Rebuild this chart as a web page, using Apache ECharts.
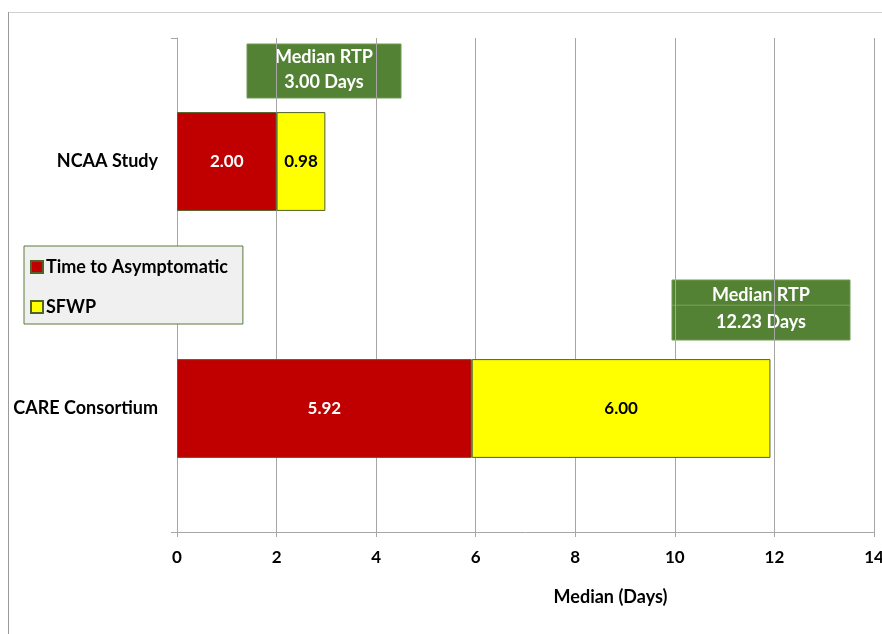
<!DOCTYPE html>
<html><head><meta charset="utf-8">
<script src="https://cdn.jsdelivr.net/npm/echarts@6/dist/echarts.min.js"></script>
<style>html,body{margin:0;padding:0;background:#fff}#c{width:882px;height:634px}</style>
</head><body><div id="c"></div>
<script>
const categories = ['NCAA Study', 'CARE Consortium'];
const timeToAsymptomatic = [2.00, 5.92];
const sfwp = [0.98, 6.00];
const medianRTP = ['3.00', '12.23'];
const xTicks = [0, 2, 4, 6, 8, 10, 12, 14];

const FONT = 'Lato, "Open Sans", sans-serif';
const chart = echarts.init(document.getElementById('c'));
const green = '#548235';
function box(x, y, w, h, val, divider) {
  const children = [
    {type:'rect', shape:{x:0,y:0,width:w,height:h}, style:{fill:green, stroke:'#6f9a4f', lineWidth:1}},
    {type:'text', style:{x:w/2, y:h*0.25, text:'Median RTP', fill:'#fff', font:'bold 18px ' + FONT, align:'center', verticalAlign:'middle'}},
    {type:'text', style:{x:w/2, y:h*0.70, text:val + ' Days', fill:'#fff', font:'bold 18px ' + FONT, align:'center', verticalAlign:'middle'}}
  ];
  if (divider) children.splice(1, 0, {type:'line', shape:{x1:0,y1:h*0.42,x2:w,y2:h*0.42}, style:{stroke:'#7aa35a', lineWidth:1}});
  return {type:'group', x:x, y:y, z:100, children};
}
chart.setOption({
  backgroundColor:'#fff',
  animation:false,
  textStyle:{fontFamily:FONT},
  grid:{left:177, right:8, top:38, bottom:102, containLabel:false, outerBoundsMode:'none'},
  legend:{
    orient:'vertical', left:24, top:246,
    data:['Time to Asymptomatic','SFWP'],
    backgroundColor:'#f0f0f0', borderColor:'#5a7a3a', borderWidth:1,
    padding:[12, 15, 8, 6], itemGap:22, itemWidth:12, itemHeight:12, icon:'rect',
    textStyle:{fontFamily:FONT, fontWeight:'bold', fontSize:18, color:'#000', padding:[0,0,0,-2]},
  },
  xAxis:{
    type:'value', min:0, max:14, interval:2,
    name:'Median (Days)', nameLocation:'middle', nameGap:56,
    nameTextStyle:{fontFamily:FONT, fontWeight:'bold', fontSize:18, color:'#000', padding:[0,0,0,170]},
    axisLine:{show:true, lineStyle:{color:'#a6a6a6'}},
    axisTick:{show:true, length:5, lineStyle:{color:'#a6a6a6'}},
    axisLabel:{fontFamily:FONT, fontWeight:'bold', fontSize:17, color:'#000', margin:17,
      formatter: v => xTicks.includes(v) ? String(v) : ''},
    splitLine:{show:true, lineStyle:{color:'#a6a6a6', width:1}}
  },
  yAxis:{
    type:'category', data:categories, inverse:true,
    axisLine:{show:true, lineStyle:{color:'#a6a6a6'}},
    axisTick:{show:true, length:6, lineStyle:{color:'#a6a6a6'}},
    axisLabel:{fontFamily:FONT, fontWeight:'bold', fontSize:18, color:'#000', margin:19}
  },
  series:[
    {name:'Time to Asymptomatic', type:'bar', stack:'t', data:timeToAsymptomatic, barWidth:'40%',
      itemStyle:{color:'#c00000', borderColor:'#4f6228', borderWidth:1},
      label:{show:true, position:'inside', formatter: p => p.value.toFixed(2), color:'#fff', fontWeight:'bold', fontSize:17, fontFamily:FONT}},
    {name:'SFWP', type:'bar', stack:'t', data:sfwp, barWidth:'40%',
      itemStyle:{color:'#ffff00', borderColor:'#4f6228', borderWidth:1},
      label:{show:true, position:'inside', formatter: p => p.value.toFixed(2), color:'#000', fontWeight:'bold', fontSize:17, fontFamily:FONT}}
  ],
  graphic:[
    {type:'rect', shape:{x:8.5,y:12.5,width:900,height:640}, style:{fill:'none', stroke:'#d0d0d0', lineWidth:1}, z:-1, silent:true},
    {type:'line', shape:{x1:8.5,y1:12,x2:8.5,y2:634}, style:{stroke:'#9a9a9a', lineWidth:1}, silent:true},
    box(247, 44, 154, 54, medianRTP[0], false),
    box(672, 280, 178, 60, medianRTP[1], true)
  ]
});
</script></body></html>
